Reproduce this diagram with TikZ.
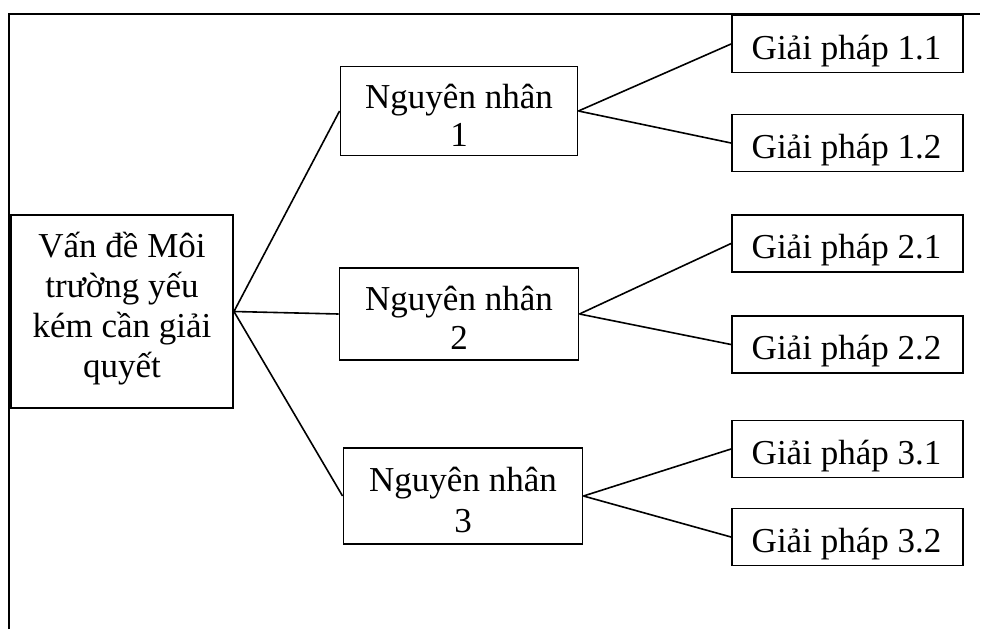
\documentclass[tikz,border=0pt]{standalone}
\usepackage{fontspec}
\setmainfont{Liberation Serif}
\begin{document}
\begin{tikzpicture}[x=1pt,y=1pt,
  box/.style={draw, line width=1.9pt, rectangle, inner sep=0pt},
  txt/.style={anchor=base, inner sep=0pt, font=\fontsize{35}{40}\selectfont},
  link/.style={line width=1.6pt}]
\useasboundingbox (0,0) rectangle (984,-629);

% open frame along the top and left edges
\coordinate (fbl) at (9,-629);
\coordinate (ftl) at (9,-14);
\coordinate (ftr) at (980,-14);
\draw[line width=1.9pt] (fbl) -- (ftl) -- (ftr);

% problem box
\node[box, minimum width=222pt, minimum height=193pt] (main) at (122,-311.5) {};
\node[txt] (mainA) at (122,-257) {Vấn đề Môi};
\node[txt] (mainB) at (122,-297) {trường yếu};
\node[txt] (mainC) at (122,-337) {kém cần giải};
\node[txt] (mainD) at (122,-377) {quyết};

% cause boxes
\node[box, minimum width=237pt, minimum height=89pt] (n1) at (459,-111) {};
\node[txt] (n1a) at (459,-108.7) {Nguyên nhân};
\node[txt] (n1b) at (459,-146.5) {1};

\node[box, minimum width=239pt, minimum height=92pt] (n2) at (459,-314) {};
\node[txt] (n2a) at (459,-310) {Nguyên nhân};
\node[txt] (n2b) at (459,-349) {2};

\node[box, minimum width=239pt, minimum height=96pt] (n3) at (463,-496) {};
\node[txt] (n3a) at (463,-491) {Nguyên nhân};
\node[txt] (n3b) at (463,-532) {3};

% solution boxes
\foreach \nm/\cy/\lbl in {g11/44/1.1, g12/143/1.2, g21/243.5/2.1,
                           g22/344.5/2.2, g31/449/3.1, g32/537/3.2}{
  \node[box, minimum width=231pt, minimum height=57pt] (\nm) at (847.5,-\cy) {};
  \node[txt] (\nm t) at (846.5,-\cy-15) {Giải pháp \lbl};
}

% connectors
\draw[link] (main.east) -- (n1.west);
\draw[link] (main.east) -- (n2.west);
\draw[link] (main.east) -- (n3.west);
\draw[link] (n1.east) -- (g11.west);
\draw[link] (n1.east) -- (g12.west);
\draw[link] (n2.east) -- (g21.west);
\draw[link] (n2.east) -- (g22.west);
\draw[link] (n3.east) -- (g31.west);
\draw[link] (n3.east) -- (g32.west);
\end{tikzpicture}
\end{document}
